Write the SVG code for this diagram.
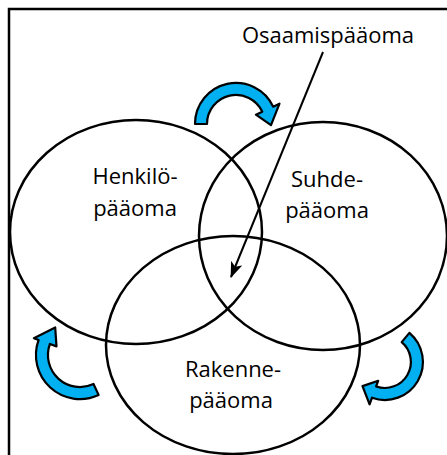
<svg xmlns="http://www.w3.org/2000/svg" width="447" height="455" viewBox="0 0 447 455">
<style>
  .bg { fill: #ffffff; }
  .frame { fill: none; stroke: #000; stroke-width: 2.5; }
  .set { fill: none; stroke: #000; stroke-width: 2.5; }
  .lbl { font-family: "Open Sans", "Noto Sans", sans-serif; font-size: 22px; fill: #000; text-anchor: middle; }
  .cyc { fill: #00B0F0; stroke: #000; stroke-width: 2.2; stroke-linejoin: round; }
  .pointer { stroke: #000; stroke-width: 2; fill: none; }
</style>
<defs>
  <marker id="ah" viewBox="0 0 10 10" refX="9" refY="5" markerWidth="7" markerHeight="7" markerUnits="userSpaceOnUse" orient="auto">
    <path d="M0,0 L10,5 L0,10 L3,5 Z" fill="#000"/>
  </marker>
  <marker id="ah2" viewBox="0 0 16 12" refX="15" refY="6" markerWidth="16" markerHeight="12" markerUnits="userSpaceOnUse" orient="auto">
    <path d="M0,0 L16,6 L0,12 L4,6 Z" fill="#000"/>
  </marker>
</defs>
<rect class="bg" x="0" y="0" width="447" height="455"/>
<rect class="frame" x="9" y="9" width="460" height="460"/>

<g id="henkilopaaoma">
  <ellipse class="set" cx="136" cy="232" rx="126" ry="112"/>
  <text class="lbl" x="135" y="184">Henkilö-</text>
  <text class="lbl" x="135" y="216">pääoma</text>
</g>
<g id="suhdepaaoma">
  <ellipse class="set" cx="323" cy="236" rx="124" ry="114"/>
  <text class="lbl" x="327" y="187">Suhde-</text>
  <text class="lbl" x="327" y="218">pääoma</text>
</g>
<g id="rakennepaaoma">
  <ellipse class="set" cx="233" cy="345" rx="127" ry="109"/>
  <text class="lbl" x="233" y="377">Rakenne-</text>
  <text class="lbl" x="231" y="408">pääoma</text>
</g>
<g id="osaamispaaoma">
  <text class="lbl" x="328" y="43">Osaamispääoma</text>
</g>

<g id="connectors">
  <line class="pointer" x1="323" y1="52" x2="231" y2="277" marker-end="url(#ah2)"/>
  <path class="cyc" d="M195,124 A41,41 0 0 1 273.2,106.7 L279.5,103.7 L271,125.2 L255.9,114.7 L262.3,111.7 A29,29 0 0 0 207,124 Z"/>
  <path class="cyc" d="M98.6,394.9 A44,44 0 0 1 38.6,340 L33.9,338.2 L55.2,327.5 L56.5,346.4 L49.9,344 A32,32 0 0 0 93.5,384 Z"/>
  <path class="cyc" d="M409.4,332.9 A38,38 0 0 1 372,397.7 L369.6,404.3 L362.5,386.1 L378.2,380.8 L376.1,386.4 A26,26 0 0 0 401.7,342.1 Z"/>
</g>
</svg>
